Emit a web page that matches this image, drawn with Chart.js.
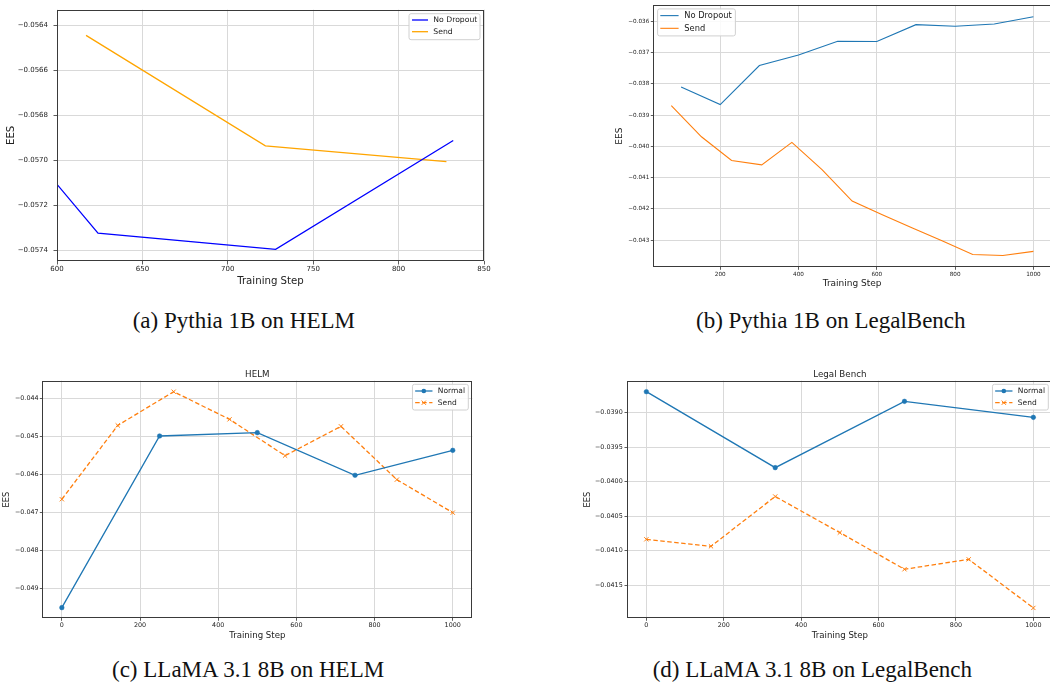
<!DOCTYPE html>
<html><head><meta charset="utf-8">
<script src="https://cdn.jsdelivr.net/npm/chart.js@4.4.0/dist/chart.umd.min.js"></script>
<style>
html,body{margin:0;padding:0;background:#fff;overflow:hidden;width:1050px;height:685px;}
#wrap{position:relative;width:1050px;height:685px;overflow:hidden;background:#fff;}
canvas{position:absolute;}
.cap{position:absolute;font-family:"Liberation Serif","Times New Roman",serif;font-size:23px;line-height:23px;white-space:nowrap;color:#111;}
</style></head><body><div id="wrap">
<canvas id="ca" width="525" height="295" style="left:0px;top:0px"></canvas>
<canvas id="cb" width="500" height="295" style="left:560px;top:0px"></canvas>
<canvas id="cc" width="525" height="285" style="left:0px;top:360px"></canvas>
<canvas id="cd" width="500" height="285" style="left:560px;top:360px"></canvas>
<div class="cap" style="left:132.7px;top:308.7px">(a) Pythia 1B on HELM</div>
<div class="cap" style="left:696px;top:308.7px">(b) Pythia 1B on LegalBench</div>
<div class="cap" style="left:112px;top:657.7px">(c) LLaMA 3.1 8B on HELM</div>
<div class="cap" style="left:652.7px;top:657.7px">(d) LLaMA 3.1 8B on LegalBench</div>
</div>
<script>
const FONT = 'DejaVu Sans';

// ---- Panel (a): Pythia 1B on HELM ----
const aStepsNoDrop = [600, 624, 728, 832];
const aNoDrop = [-0.057107, -0.057324, -0.057396, -0.056912];
const aStepsSend = [617, 722, 828];
const aSend = [-0.056444, -0.056936, -0.057006];
const aXTicks = [600, 650, 700, 750, 800, 850];
const aYTicks = [-0.0574, -0.0572, -0.0570, -0.0568, -0.0566, -0.0564];

// ---- Panel (b): Pythia 1B on LegalBench ----
const bStepsNoDrop = [100, 200, 300, 400, 500, 600, 700, 800, 900, 1000];
const bNoDrop = [-0.03810, -0.03866, -0.03741, -0.03707, -0.03663, -0.03664, -0.03610, -0.03615, -0.03608, -0.03585];
const bStepsSend = [75, 152, 229, 306, 383, 460, 537, 614, 691, 768, 845, 922, 1000];
const bSend = [-0.03869, -0.03969, -0.04045, -0.04059, -0.03987, -0.04074, -0.04175, -0.04219, -0.04261, -0.04303, -0.04346, -0.04349, -0.04336];
const bXTicks = [200, 400, 600, 800, 1000];
const bYTicks = [-0.043, -0.042, -0.041, -0.040, -0.039, -0.038, -0.037, -0.036];

// ---- Panel (c): LLaMA 3.1 8B on HELM ----
const cStepsNormal = [0, 250, 500, 750, 1000];
const cNormal = [-0.049508, -0.044998, -0.044910, -0.046030, -0.045375];
const cStepsSend = [0, 143, 286, 429, 571, 714, 857, 1000];
const cSend = [-0.046660, -0.044720, -0.043834, -0.044560, -0.045515, -0.044744, -0.046145, -0.047012];
const cXTicks = [0, 200, 400, 600, 800, 1000];
const cYTicks = [-0.049, -0.048, -0.047, -0.046, -0.045, -0.044];

// ---- Panel (d): LLaMA 3.1 8B on LegalBench ----
const dStepsNormal = [0, 333, 667, 1000];
const dNormal = [-0.038696, -0.039796, -0.038836, -0.039068];
const dStepsSend = [0, 167, 333, 500, 667, 833, 1000];
const dSend = [-0.040834, -0.040935, -0.040214, -0.040737, -0.041268, -0.041124, -0.041828];
const dXTicks = [0, 200, 400, 600, 800, 1000];
const dYTicks = [-0.0415, -0.0410, -0.0405, -0.0400, -0.0395, -0.0390];

const TAB_BLUE = '#1f77b4', TAB_ORANGE = '#ff7f0e';

function pts(xs, ys) { return xs.map((x, i) => ({x: x, y: ys[i]})); }
function minusFmt(d) { return v => (v < 0 ? '\u2212' : '') + Math.abs(v).toFixed(d); }

const framePlugin = {
  id: 'frame',
  afterDatasetsDraw(chart) {
    const a = chart.chartArea, ctx = chart.ctx;
    ctx.save();
    ctx.strokeStyle = '#3a3a3a';
    ctx.lineWidth = 1;
    const l = Math.round(a.left) + 0.5, t = Math.round(a.top) + 0.5;
    const r = Math.round(a.right) - 0.5, b = Math.round(a.bottom) - 0.5;
    ctx.strokeRect(l, t, r - l, b - t);
    ctx.restore();
  }
};

function drawMarker(ctx, d, x, y) {
  if (!d.pointRadius) return;
  ctx.save();
  ctx.setLineDash([]);
  ctx.strokeStyle = d.pointBorderColor || d.borderColor;
  ctx.fillStyle = d.pointBackgroundColor || d.borderColor;
  ctx.lineWidth = d.pointBorderWidth || 1;
  if (d.pointStyle === 'crossRot') {
    const o = d.pointRadius * Math.SQRT1_2;
    ctx.beginPath();
    ctx.moveTo(x - o, y - o); ctx.lineTo(x + o, y + o);
    ctx.moveTo(x - o, y + o); ctx.lineTo(x + o, y - o);
    ctx.stroke();
  } else {
    ctx.beginPath();
    ctx.arc(x, y, d.pointRadius, 0, Math.PI * 2);
    ctx.fill();
  }
  ctx.restore();
}

const legendPlugin = {
  id: 'mplLegend',
  afterDraw(chart, args, o) {
    if (!o || !o.show) return;
    const ctx = chart.ctx, a = chart.chartArea, ds = chart.data.datasets;
    ctx.save();
    ctx.font = o.size + 'px "' + FONT + '"';
    const tw = Math.max(...ds.map(d => ctx.measureText(d.label).width));
    const w = o.padL + o.lineLen + o.gap + tw + o.padR;
    const h = o.h;
    const bx = o.corner === 'tr' ? a.right - o.inset - w : a.left + o.inset;
    const by = a.top + o.insetY;
    const r = 2;
    ctx.beginPath();
    ctx.moveTo(bx + r, by);
    ctx.lineTo(bx + w - r, by); ctx.quadraticCurveTo(bx + w, by, bx + w, by + r);
    ctx.lineTo(bx + w, by + h - r); ctx.quadraticCurveTo(bx + w, by + h, bx + w - r, by + h);
    ctx.lineTo(bx + r, by + h); ctx.quadraticCurveTo(bx, by + h, bx, by + h - r);
    ctx.lineTo(bx, by + r); ctx.quadraticCurveTo(bx, by, bx + r, by);
    ctx.closePath();
    ctx.fillStyle = 'rgba(255,255,255,0.85)';
    ctx.fill();
    ctx.strokeStyle = '#d0d0d0';
    ctx.lineWidth = 1;
    ctx.stroke();
    ds.forEach((d, i) => {
      const y = by + o.row0 + i * o.rowH;
      const x0 = bx + o.padL, x1 = x0 + o.lineLen;
      ctx.save();
      ctx.strokeStyle = d.borderColor;
      ctx.lineWidth = d.borderWidth;
      ctx.setLineDash(d.borderDash || []);
      ctx.beginPath(); ctx.moveTo(x0, y); ctx.lineTo(x1, y); ctx.stroke();
      ctx.restore();
      drawMarker(ctx, d, (x0 + x1) / 2, y);
      ctx.fillStyle = '#222';
      ctx.textBaseline = 'middle';
      ctx.textAlign = 'left';
      ctx.fillText(d.label, x1 + o.gap, y + 0.5);
    });
    ctx.restore();
  }
};

function build(id, p) {
  return new Chart(document.getElementById(id), {
    type: 'line',
    data: { datasets: p.datasets },
    options: {
      responsive: false, animation: false, devicePixelRatio: 1,
      layout: { padding: p.pad },
      plugins: {
        legend: { display: false },
        tooltip: { enabled: false },
        title: p.title ? {
          display: true, text: p.title, fullSize: false, color: '#222',
          font: { family: FONT, size: 8.7, weight: 'normal', lineHeight: 1.2 },
          padding: { top: 9.1, bottom: 1.16 }
        } : { display: false },
        mplLegend: p.legend
      },
      scales: {
        x: {
          type: 'linear', min: p.xMin, max: p.xMax,
          afterBuildTicks: s => { s.ticks = p.xTicks.map(v => ({value: v})); },
          afterFit: s => { s.height = p.xH; },
          border: { display: false },
          grid: { color: '#d9d9d9', lineWidth: 1, tickLength: p.tl, tickColor: '#333', tickWidth: 0.8 },
          ticks: { font: { family: FONT, size: p.tickSize }, color: '#222', padding: p.xTickPad, maxRotation: 0, autoSkip: false, callback: v => String(v) },
          title: { display: true, text: 'Training Step', color: '#222', font: { family: FONT, size: p.xTitleSize, lineHeight: 1.2 }, padding: { top: 0, bottom: p.xTitlePad } }
        },
        y: {
          type: 'linear', min: p.yMin, max: p.yMax,
          afterBuildTicks: s => { s.ticks = p.yTicks.map(v => ({value: v})); },
          afterFit: s => { s.width = p.yW; },
          border: { display: false },
          grid: { color: '#d9d9d9', lineWidth: 1, tickLength: p.tl, tickColor: '#333', tickWidth: 0.8 },
          ticks: { font: { family: FONT, size: p.tickSize }, color: '#222', padding: p.yTickPad, autoSkip: false, callback: minusFmt(p.yDec) },
          title: { display: true, text: 'EES', color: '#222', font: { family: FONT, size: p.yTitleSize, lineHeight: 1.2 }, padding: { top: p.yTitlePad, bottom: 0 } }
        }
      }
    },
    plugins: [framePlugin, legendPlugin]
  });
}

function lineDs(label, xs, ys, color, width, extra) {
  return Object.assign({
    label: label, data: pts(xs, ys), borderColor: color, backgroundColor: color,
    borderWidth: width, pointRadius: 0, pointHoverRadius: 0, tension: 0, fill: false
  }, extra || {});
}

// (a)
build('ca', {
  datasets: [
    lineDs('No Dropout', aStepsNoDrop, aNoDrop, '#0000ff', 1.3),
    lineDs('Send', aStepsSend, aSend, '#ffa500', 1.3)
  ],
  pad: { left: 0, top: 5, right: 41, bottom: 0 },
  xMin: 600, xMax: 850, yMin: -0.057448, yMax: -0.05633,
  xTicks: aXTicks, yTicks: aYTicks, yDec: 4,
  tl: 3.5, tickSize: 7, xTickPad: 0.5, yTickPad: 5.5,
  xH: 34, yW: 57,
  xTitleSize: 10.2, xTitlePad: 7.2, yTitleSize: 10.2, yTitlePad: 4.9,
  legend: { show: true, corner: 'tr', inset: 4, insetY: 4, size: 7.7, padL: 3, lineLen: 16, gap: 5.3, padR: 2.7, h: 26, row0: 6.3, rowH: 11.7 }
});

// (b)
build('cb', {
  datasets: [
    lineDs('No Dropout', bStepsNoDrop, bNoDrop, TAB_BLUE, 1.1),
    lineDs('Send', bStepsSend, bSend, TAB_ORANGE, 1.1)
  ],
  pad: { left: 0, top: 3.3, right: 9, bottom: 0 },
  xMin: 29, xMax: 1045, yMin: -0.043869, yMax: -0.035469,
  xTicks: bXTicks, yTicks: bYTicks, yDec: 3,
  tl: 2.5, tickSize: 5.7, xTickPad: 1.1, yTickPad: 1.5,
  xH: 27.7, yW: 93.3,
  xTitleSize: 9, xTitlePad: 5.6, yTitleSize: 9, yTitlePad: 54.6,
  legend: { show: true, corner: 'tl', inset: 4.3, insetY: 4, size: 8.3, padL: 2.7, lineLen: 18.3, gap: 5.7, padR: 3.6, h: 27, row0: 6.7, rowH: 12.7 }
});

// (c)
const normalStyle = { pointRadius: 2.3, pointStyle: 'circle', pointBackgroundColor: TAB_BLUE, pointBorderColor: TAB_BLUE, pointBorderWidth: 0.5 };
const sendStyle = { borderDash: [4.5, 2.5], pointRadius: 3, pointStyle: 'crossRot', pointBackgroundColor: TAB_ORANGE, pointBorderColor: TAB_ORANGE, pointBorderWidth: 1 };

build('cc', {
  title: 'HELM',
  datasets: [
    lineDs('Normal', cStepsNormal, cNormal, TAB_BLUE, 1.3, normalStyle),
    lineDs('Send', cStepsSend, cSend, TAB_ORANGE, 1.3, sendStyle)
  ],
  pad: { left: 0, top: 0, right: 52.7, bottom: 0 },
  xMin: -50, xMax: 1050, yMin: -0.049788, yMax: -0.043545,
  xTicks: cXTicks, yTicks: cYTicks, yDec: 3,
  tl: 2.5, tickSize: 6.4, xTickPad: 0.7, yTickPad: 1.2,
  xH: 26.7, yW: 42.3,
  xTitleSize: 8.6, xTitlePad: 4.5, yTitleSize: 8.3, yTitlePad: 2.3,
  legend: { show: true, corner: 'tr', inset: 4, insetY: 3.6, size: 7.5, padL: 2.7, lineLen: 17.3, gap: 5.4, padR: 3.3, h: 25.7, row0: 6.7, rowH: 11.7 }
});

// (d)
build('cd', {
  title: 'Legal Bench',
  datasets: [
    lineDs('Normal', dStepsNormal, dNormal, TAB_BLUE, 1.3, normalStyle),
    lineDs('Send', dStepsSend, dSend, TAB_ORANGE, 1.3, sendStyle)
  ],
  pad: { left: 0, top: 0, right: 7.3, bottom: 0 },
  xMin: -50, xMax: 1050, yMin: -0.041978, yMax: -0.038537,
  xTicks: dXTicks, yTicks: dYTicks, yDec: 4,
  tl: 2.5, tickSize: 6.4, xTickPad: 0.7, yTickPad: 1.8,
  xH: 26.7, yW: 67,
  xTitleSize: 8.6, xTitlePad: 4.5, yTitleSize: 8.3, yTitlePad: 23,
  legend: { show: true, corner: 'tr', inset: 4.4, insetY: 3.6, size: 7.5, padL: 2.7, lineLen: 17.3, gap: 5.4, padR: 3.3, h: 25.7, row0: 6.7, rowH: 11.7 }
});
</script>
</body></html>
